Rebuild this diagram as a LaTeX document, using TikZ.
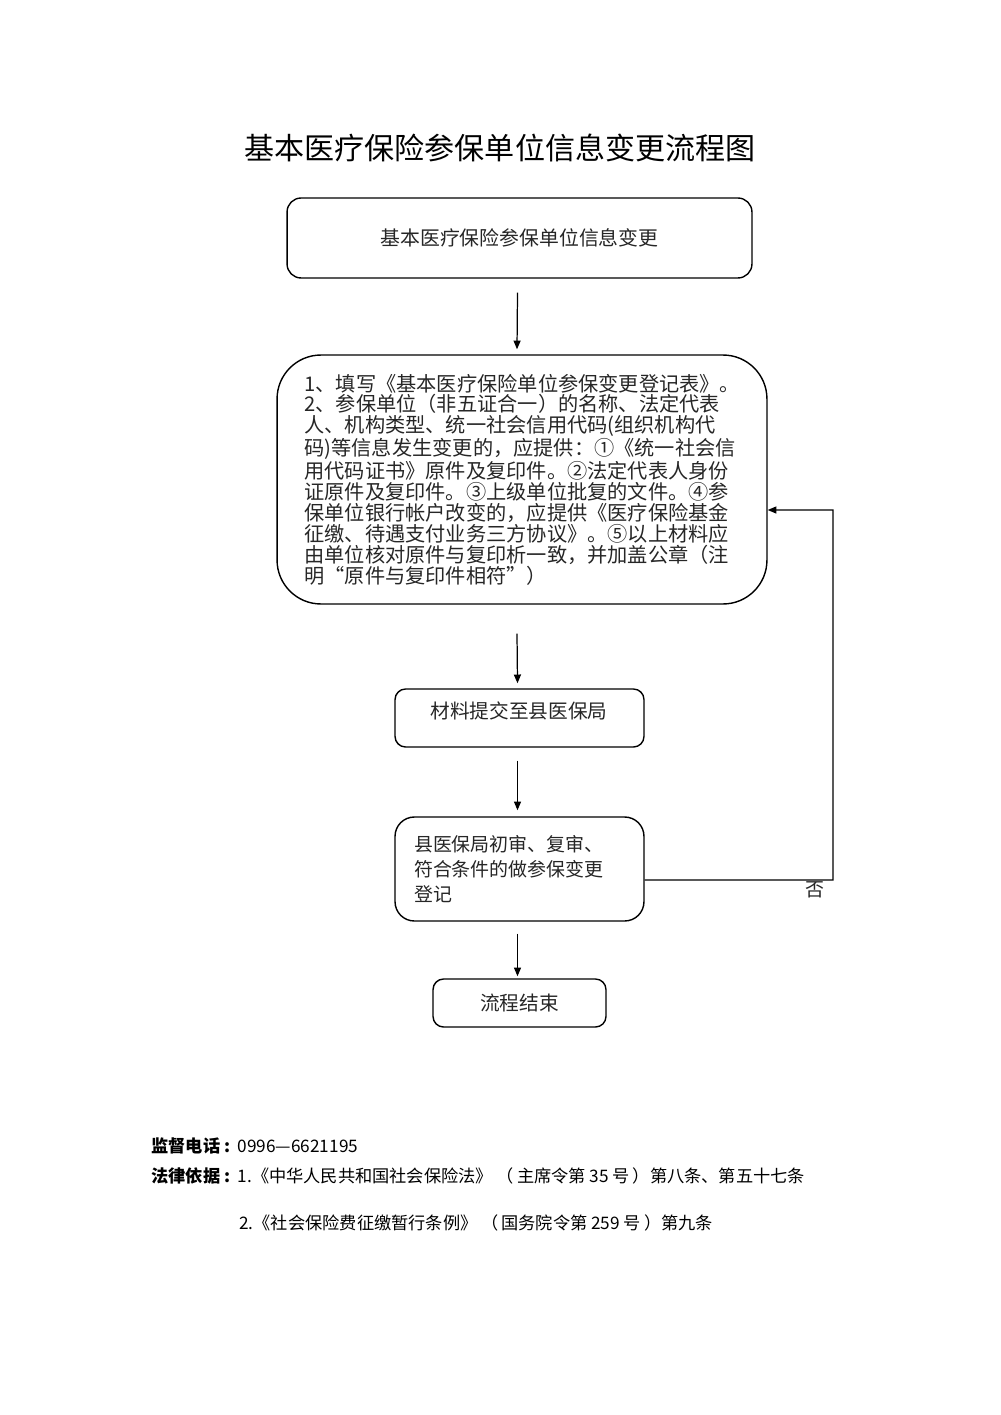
\documentclass[tikz,border=0pt]{standalone}
\usepackage{fontspec}
\setmainfont{Noto Sans CJK SC}
\usetikzlibrary{arrows.meta,calc}
\tikzset{
  box/.style={draw=black, line width=0.8pt, rounded corners=#1, text=black!85, inner sep=0pt},
  box/.default=8pt,
  arr/.style={draw=black, line width=0.7pt, -{Triangle[length=5pt,width=4pt]}},
}
\begin{document}
\begin{tikzpicture}[x=0.02cm,y=-0.02cm]
\useasboundingbox (0,0) rectangle (1000,1415);
\node (title) at (500,148) {\fontsize{17.1}{20}\selectfont 基本医疗保险参保单位信息变更流程图};
\node[box=8pt, minimum width=9.3cm, minimum height=1.6cm, font=\fontsize{11.3}{14}\selectfont] (b1) at (519.5,238) {基本医疗保险参保单位信息变更};
\node[box=25pt, minimum width=9.8cm, minimum height=4.98cm, text width=8.7cm, align=left, font=\fontsize{11.5}{11.9}\selectfont] (b2) at (522,479.5) {1、填写《基本医疗保险单位参保变更登记表》。\\
2、参保单位（非五证合一）的名称、法定代表\\
人、机构类型、统一社会信用代码(组织机构代\\
码)等信息发生变更的，应提供：①《统一社会信\\
用代码证书》原件及复印件。②法定代表人身份\\
证原件及复印件。③上级单位批复的文件。④参\\
保单位银行帐户改变的，应提供《医疗保险基金\\
征缴、待遇支付业务三方协议》。⑤以上材料应\\
由单位核对原件与复印析一致，并加盖公章（注\\
明“原件与复印件相符”）};
\node[box=6pt, minimum width=4.98cm, minimum height=1.16cm] (b3) at (519.5,718) {};
\node[text=black!85, font=\fontsize{11.2}{14}\selectfont, inner sep=0pt] (t3) at (519,711) {材料提交至县医保局};
\node[box=11pt, minimum width=4.98cm, minimum height=2.08cm, text width=4.22cm, align=left, font=\fontsize{10.8}{14.2}\selectfont] (b4) at (519.5,869) {县医保局初审、复审、\\符合条件的做参保变更\\登记};
\node[box=6pt, minimum width=3.46cm, minimum height=0.96cm, font=\fontsize{11.2}{14}\selectfont] (b5) at (519.5,1003) {流程结束};
\draw[arr] ($(b1.south)+(-2,14)$) -- ($(b2.north)+(-5,-5)$);
\draw[arr] ($(b2.south)+(-5,29)$) -- ($(b3.north)+(-2,-5)$);
\draw[arr] ($(b3.south)+(-2,13)$) -- ($(b4.north)+(-2,-6)$);
\draw[arr] ($(b4.south)+(-2,12)$) -- ($(b5.north)+(-2,-2)$);
\coordinate (fb) at (833,880);
\draw[arr] ($(b4.east)+(0,11)$) -- (fb) -- (fb |- 0,510) -- ($(b2.east)+(0,30.5)$);
\node[text=black!85, font=\fontsize{10.8}{14}\selectfont, inner sep=0pt] (no) at (815,890) {否};
\node[anchor=west, inner sep=0pt, font=\fontsize{9.8}{12}\selectfont] (l1) at (151,1146) {\textbf{监督电话}\hspace{2.5pt}\textbf{:}\hspace{4pt}0996—6621195};
\node[anchor=west, inner sep=0pt, font=\fontsize{9.8}{12}\selectfont] (l2) at (151,1176) {\textbf{法律依据}\hspace{2.5pt}\textbf{:}\hspace{4pt}1.《中华人民共和国社会保险法》\ （\,主席令第 35 号\,）第八条、第五十七条};
\node[anchor=west, inner sep=0pt, font=\fontsize{9.8}{12}\selectfont] (l3) at (239,1223) {2.《社会保险费征缴暂行条例》\ （\,国务院令第 259 号\,）第九条};
\end{tikzpicture}
\end{document}
